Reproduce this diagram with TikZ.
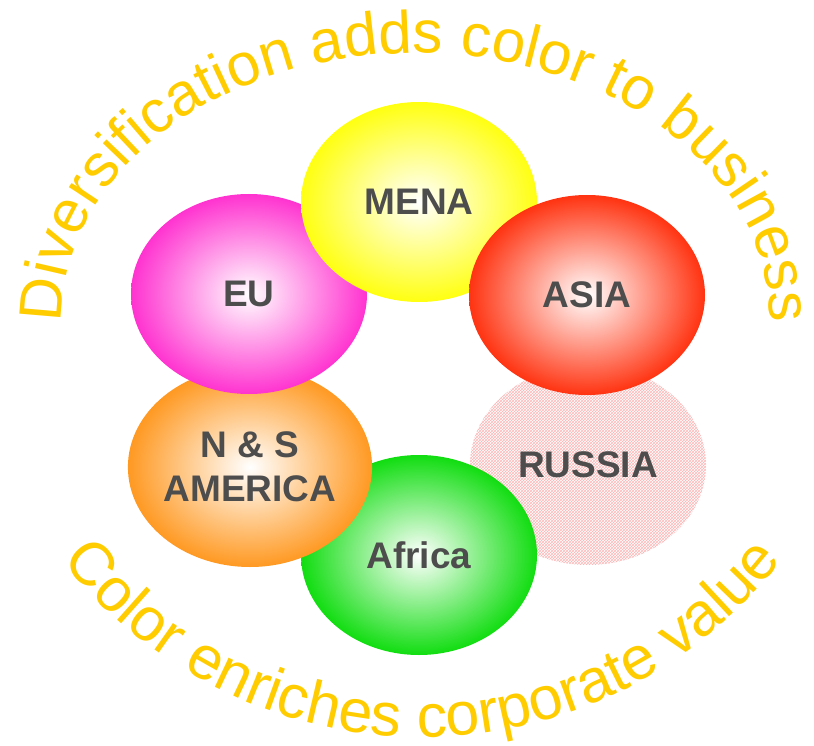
\documentclass[tikz,border=0pt]{standalone}
\usepackage{fontspec}
\setmainfont{Liberation Sans}
\usetikzlibrary{shapes.geometric,decorations.text,patterns}
\definecolor{arcgold}{HTML}{FFCC00}
\definecolor{labelgray}{HTML}{4D4D4D}
\definecolor{cmena}{HTML}{FFFF11}
\definecolor{ceu}{HTML}{FF33D0}
\definecolor{casia}{HTML}{FF3311}
\definecolor{camer}{HTML}{FF9922}
\definecolor{cafr}{HTML}{11DD11}
\definecolor{crus}{HTML}{FAB8B8}
\newcommand\myarcfont{\fontsize{60}{72}\selectfont}
\newcommand\mybotfont{\fontsize{61}{72}\selectfont}
\begin{document}
\begin{tikzpicture}[x=1pt,y=1pt,
  blob/.style={ellipse, minimum width=236pt, minimum height=200pt, inner sep=0pt,
    font=\fontsize{37}{44}\selectfont\bfseries, text=labelgray, align=center},
  glow/.style={shading=radial, inner color=white, outer color=#1}
]
\useasboundingbox (0,0) rectangle (814,-746);
% regions (back to front)
\node[blob, pattern=crosshatch, pattern color=crus] (rus) at (588,-465) {RUSSIA};
\node[blob, glow=cafr] (afr) at (419,-555) {Africa};
\node[blob, glow=camer] (amer) at (250,-467) {N \& S\\AMERICA};
\node[blob, glow=ceu] (eu) at (249,-294) {EU};
\node[blob, glow=cmena] (mena) at (419,-202) {MENA};
\node[blob, glow=casia] (asia) at (587,-295) {ASIA};
% arched texts
\path[decorate, decoration={text along path, text align=center,
  text={|\myarcfont\color{arcgold}|Diversification adds color to business}}]
  (416-354*0.9659,-318-265*0.2588) arc[start angle=195, end angle=-15, x radius=354, y radius=265];
\path[decorate, decoration={text along path, text align=center,
  text={|\mybotfont\color{arcgold}|Color enriches corporate value}}]
  (422-455*0.9063,-282-455*0.4226) arc[start angle=205, end angle=335, radius=455];
\end{tikzpicture}
\end{document}
